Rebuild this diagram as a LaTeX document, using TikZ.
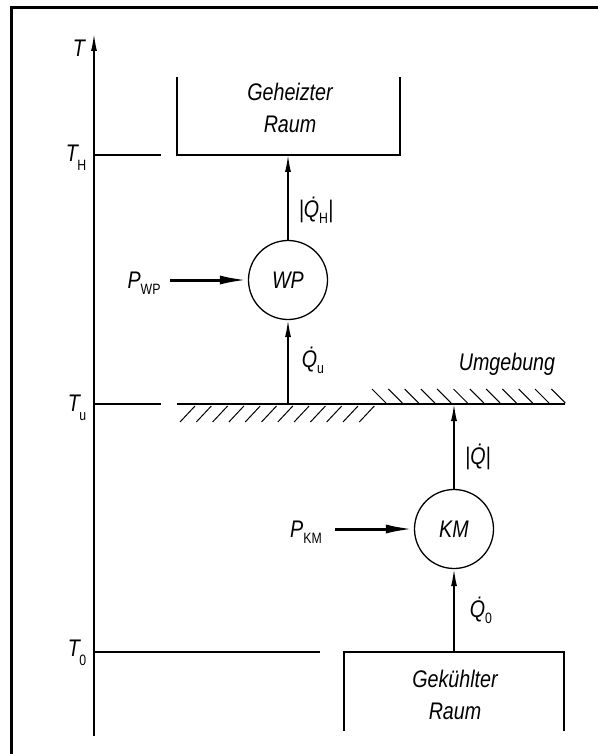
\documentclass[tikz,border=0pt]{standalone}
\usepackage{fontspec}
\setmainfont{Liberation Sans}[FakeStretch=0.82]
\usetikzlibrary{arrows.meta}
\newcommand{\lsub}[1]{\raisebox{-6pt}{\fontsize{15}{15}\selectfont\upshape #1}}
\newcommand{\tsub}[1]{\kern-0.5pt\raisebox{-9pt}{\fontsize{15}{15}\selectfont\upshape #1}}
\newcommand{\Qd}{\.{Q}}
\begin{document}
\begin{tikzpicture}[x=1pt,y=-1pt,
  ln/.style={line width=1.4pt, line cap=butt},
  lbl/.style={font=\fontsize{24}{32}\selectfont\itshape, inner sep=0pt},
  flow/.style={ln, -{Latex[length=17pt,width=6pt]}},
  power/.style={line width=3pt, -{Latex[length=28pt,width=9pt]}},
  machine/.style={circle, draw, line width=1.3pt, minimum size=79pt, inner sep=0pt, font=\fontsize{24}{28}\selectfont\itshape},
  hatch/.style={line width=1pt}]
\useasboundingbox (0,0) rectangle (597,754);
% frame
\draw[line width=3pt] (11,760) -- (11,8) -- (605,8);
% temperature axis
\coordinate (axb) at (94,736);
\coordinate (axt) at (94,34);
\draw[ln, -{Latex[length=17pt,width=6pt]}] (axb) -- (axt);
\node[lbl] (T) at (79,48) {T};
% levels
\coordinate (aH) at (94,155); \coordinate (aHe) at (161,155);
\coordinate (aU) at (94,404); \coordinate (aUe) at (161,404);
\coordinate (a0) at (94,652); \coordinate (a0e) at (320,652);
\draw[ln] (aH) -- (aHe);
\draw[ln] (aU) -- (aUe);
\draw[ln] (a0) -- (a0e);
\node[lbl] (TH) at (76,158) {T\tsub{H}};
\node[lbl] (TU) at (77,408) {T\tsub{u}};
\node[lbl] (T0) at (77,653) {T\tsub{0}};
% heated room
\draw[ln] (177,77) -- (177,155) -- (400,155) -- (400,77);
\node[lbl, align=center] (gh) at (290,108) {Geheizter\\Raum};
% cooled room
\draw[ln] (344,731) -- (344,652) -- (564,652) -- (564,731);
\node[lbl, align=center] (gk) at (455,695) {Gekühlter\\Raum};
% environment
\draw[ln] (177,404) -- (565,404);
\foreach \i in {0,...,11} {
  \draw[hatch] ({180+16.3*\i},422) -- ({195+16.3*\i},406);
}
\foreach \i in {0,...,11} {
  \draw[hatch] ({372+16.3*\i},389) -- ({386+16.3*\i},403);
}
\node[lbl] (umg) at (507,364) {Umgebung};
% heat pump
\node[machine] (WP) at (288,280) {WP};
\coordinate (wpin) at (288,404);
\coordinate (wpout) at (288,155);
\draw[flow] (wpin) -- (WP.south);
\draw[flow] (WP.north) -- (wpout);
\coordinate (pwp) at (170,280);
\draw[power] (pwp) -- (WP.west);
\node[lbl] (PWP) at (144,283) {P\lsub{WP}};
\node[lbl] (QH) at (316,210) {|\Qd\lsub{H}|};
\node[lbl] (Qu) at (313,360) {\Qd\lsub{u}};
% cooling machine
\node[machine] (KM) at (454,529) {KM};
\coordinate (kmin) at (454,652);
\coordinate (kmout) at (454,404);
\draw[flow] (kmin) -- (KM.south);
\draw[flow] (KM.north) -- (kmout);
\coordinate (pkm) at (335,529);
\draw[power] (pkm) -- (KM.west);
\node[lbl] (PKM) at (306,532) {P\lsub{KM}};
\node[lbl] (Qb) at (478,457) {|\Qd|};
\node[lbl] (Q0) at (481,610) {\Qd\lsub{0}};
\end{tikzpicture}
\end{document}
